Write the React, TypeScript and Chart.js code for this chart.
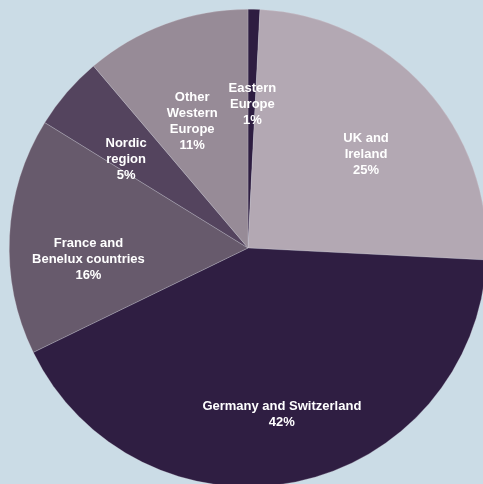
import React, { useEffect, useRef } from "react";
import { Chart, registerables } from "chart.js";

Chart.register(...registerables);

const categories = [
  ["Eastern", "Europe"],
  ["UK and", "Ireland"],
  ["Germany and Switzerland"],
  ["France and", "Benelux countries"],
  ["Nordic", "region"],
  ["Other", "Western", "Europe"],
];
const shares = [0.8, 25, 42, 16, 5, 11.2];
const colors = ["#2e1d41", "#b3a8b3", "#2f1e42", "#675a6c", "#54445e", "#978b97"];

// label placement: radius fraction and angular nudge (degrees)
const labelRadius = [0.6, 0.63, 0.71, 0.67, 0.63, 0.58];
const labelTurn = [0.3, 3.8, 0, -6.8, -4.8, -3.6];

const labelPlugin = {
  id: "sliceLabels",
  afterDatasetsDraw(chart: any) {
    const ctx = chart.ctx;
    const meta = chart.getDatasetMeta(0);
    ctx.save();
    ctx.fillStyle = "#ffffff";
    ctx.font = "bold 13px 'Liberation Sans', Arial, sans-serif";
    ctx.textAlign = "center";
    ctx.textBaseline = "middle";
    const lh = 16;
    meta.data.forEach((arc: any, i: number) => {
      const { x, y, startAngle, endAngle, outerRadius } = arc.getProps(
        ["x", "y", "startAngle", "endAngle", "outerRadius"],
        true
      );
      const mid = (startAngle + endAngle) / 2 + (labelTurn[i] * Math.PI) / 180;
      const r = outerRadius * labelRadius[i];
      const cx = x + Math.cos(mid) * r;
      const cy = y + Math.sin(mid) * r;
      const lines = [...categories[i], Math.round(shares[i]) + "%"];
      const top = cy - ((lines.length - 1) * lh) / 2;
      lines.forEach((ln, j) => ctx.fillText(ln, cx, top + j * lh));
    });
    ctx.restore();
  },
};

export default function App() {
  const ref = useRef<HTMLCanvasElement>(null);
  useEffect(() => {
    document.body.style.margin = "0";
    const chart = new Chart(ref.current!, {
      type: "pie",
      data: {
        labels: categories.map((c) => c.join(" ")),
        datasets: [
          {
            data: shares,
            backgroundColor: colors,
            borderWidth: 0.5,
            borderColor: "rgba(220,215,225,0.5)",
          },
        ],
      },
      options: {
        animation: false,
        responsive: false,
        maintainAspectRatio: false,
        layout: { padding: { top: 9, left: 9, right: 13, bottom: 13 } },
        plugins: {
          legend: { display: false },
          tooltip: { enabled: false },
          title: { display: false },
        },
      },
      plugins: [labelPlugin],
    });
    return () => chart.destroy();
  }, []);
  return (
    <div
      style={{
        position: "absolute",
        left: 0,
        top: 0,
        width: 483,
        height: 484,
        overflow: "hidden",
        background: "#cbdce6",
      }}
    >
      <canvas ref={ref} width={500} height={500} style={{ display: "block" }} />
    </div>
  );
}
